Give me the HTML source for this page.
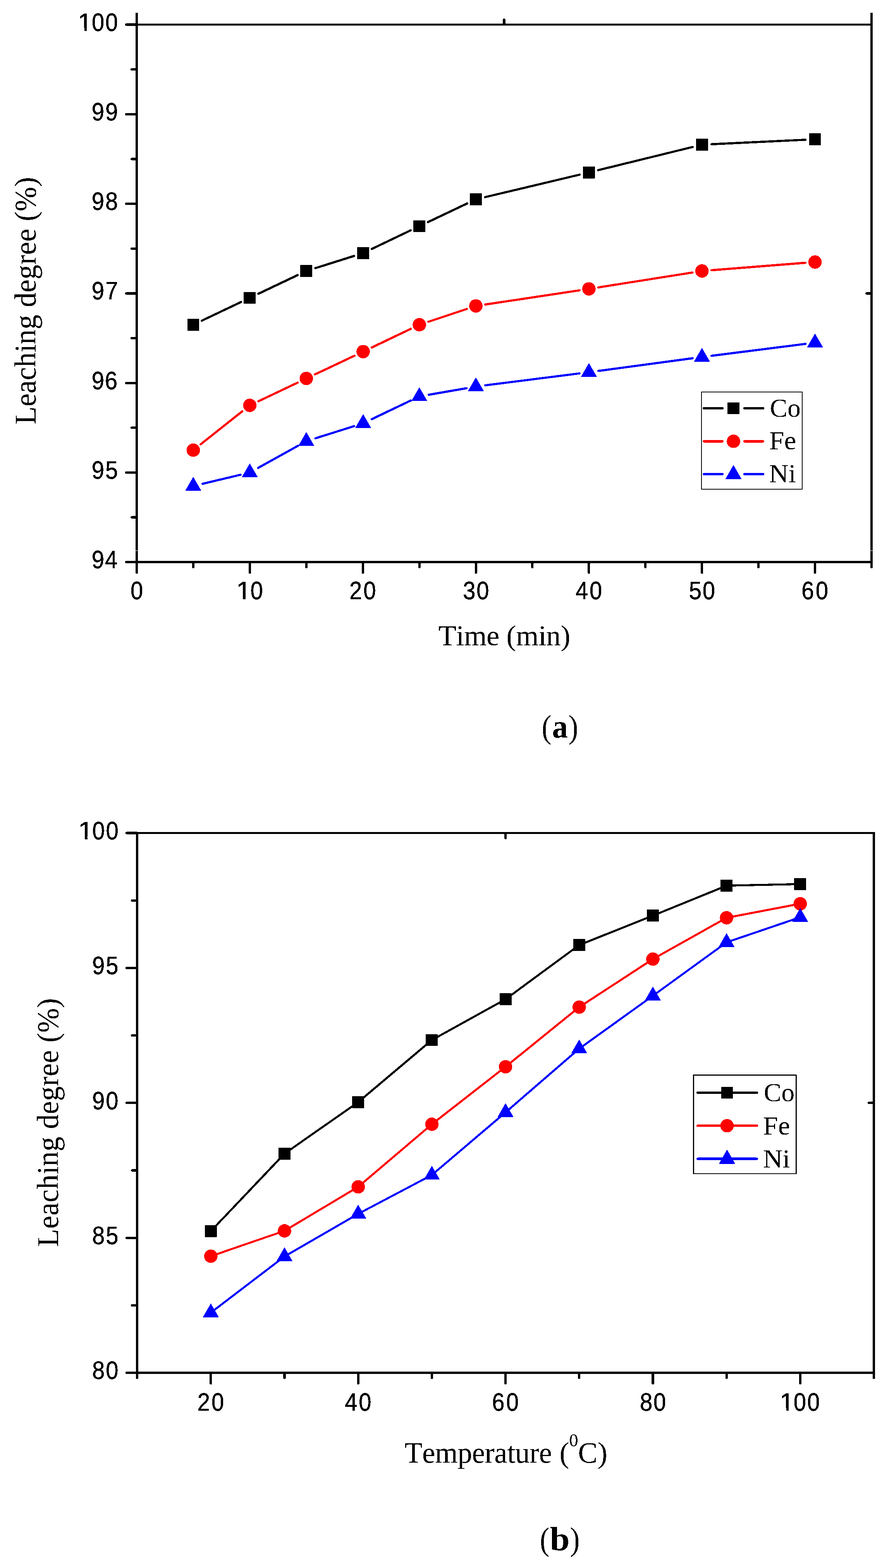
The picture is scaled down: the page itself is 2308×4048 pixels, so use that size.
<!DOCTYPE html>
<html lang="en"><head><meta charset="utf-8"><title>Leaching degree of Co, Fe and Ni versus time and temperature</title>
<style>html,body{margin:0;padding:0;background:#fff}body{width:2308px;height:4048px;overflow:hidden}svg{display:block}text{white-space:pre;font-kerning:none}</style>
</head><body>
<svg width="2308" height="4048" viewBox="0 0 2308 4048">
<rect width="2308" height="4048" fill="#fff"/>
<defs><filter id="bin" filterUnits="userSpaceOnUse" x="0" y="0" width="2308" height="4048" color-interpolation-filters="sRGB"><feComponentTransfer><feFuncA type="discrete" tableValues="0 1"/></feComponentTransfer></filter></defs>
<defs><clipPath id="one"><path d="M-20,-80H400V20H38.71V-6.97H25.51V10H18.44V-6.97H-20Z"/></clipPath></defs>
<g filter="url(#bin)">
<line x1="353" y1="33.6" x2="353" y2="1451.2" stroke="#000" stroke-width="6" stroke-linecap="butt"/>
<line x1="2250" y1="33.6" x2="2250" y2="1451.2" stroke="#000" stroke-width="6" stroke-linecap="butt"/>
<line x1="350" y1="63.6" x2="2253" y2="63.6" stroke="#000" stroke-width="5" stroke-linecap="butt"/>
<line x1="350" y1="1451.2" x2="2253" y2="1451.2" stroke="#000" stroke-width="6" stroke-linecap="butt"/>
<line x1="353" y1="1451.2" x2="353" y2="1478.5" stroke="#000" stroke-width="6" stroke-linecap="round"/>
<line x1="498.92" y1="1451.2" x2="498.92" y2="1464.3" stroke="#000" stroke-width="6" stroke-linecap="round"/>
<line x1="644.85" y1="1451.2" x2="644.85" y2="1478.5" stroke="#000" stroke-width="6" stroke-linecap="round"/>
<line x1="790.77" y1="1451.2" x2="790.77" y2="1464.3" stroke="#000" stroke-width="6" stroke-linecap="round"/>
<line x1="936.69" y1="1451.2" x2="936.69" y2="1478.5" stroke="#000" stroke-width="6" stroke-linecap="round"/>
<line x1="1082.62" y1="1451.2" x2="1082.62" y2="1464.3" stroke="#000" stroke-width="6" stroke-linecap="round"/>
<line x1="1228.54" y1="1451.2" x2="1228.54" y2="1478.5" stroke="#000" stroke-width="6" stroke-linecap="round"/>
<line x1="1374.46" y1="1451.2" x2="1374.46" y2="1464.3" stroke="#000" stroke-width="6" stroke-linecap="round"/>
<line x1="1520.38" y1="1451.2" x2="1520.38" y2="1478.5" stroke="#000" stroke-width="6" stroke-linecap="round"/>
<line x1="1666.31" y1="1451.2" x2="1666.31" y2="1464.3" stroke="#000" stroke-width="6" stroke-linecap="round"/>
<line x1="1812.23" y1="1451.2" x2="1812.23" y2="1478.5" stroke="#000" stroke-width="6" stroke-linecap="round"/>
<line x1="1958.15" y1="1451.2" x2="1958.15" y2="1464.3" stroke="#000" stroke-width="6" stroke-linecap="round"/>
<line x1="2104.08" y1="1451.2" x2="2104.08" y2="1478.5" stroke="#000" stroke-width="6" stroke-linecap="round"/>
<line x1="2250" y1="1451.2" x2="2250" y2="1464.3" stroke="#000" stroke-width="6" stroke-linecap="round"/>
<line x1="353" y1="1451.2" x2="325.7" y2="1451.2" stroke="#000" stroke-width="6" stroke-linecap="round"/>
<line x1="353" y1="1335.57" x2="339.9" y2="1335.57" stroke="#000" stroke-width="6" stroke-linecap="round"/>
<line x1="353" y1="1219.93" x2="325.7" y2="1219.93" stroke="#000" stroke-width="6" stroke-linecap="round"/>
<line x1="353" y1="1104.3" x2="339.9" y2="1104.3" stroke="#000" stroke-width="6" stroke-linecap="round"/>
<line x1="353" y1="988.67" x2="325.7" y2="988.67" stroke="#000" stroke-width="6" stroke-linecap="round"/>
<line x1="353" y1="873.03" x2="339.9" y2="873.03" stroke="#000" stroke-width="6" stroke-linecap="round"/>
<line x1="353" y1="757.4" x2="325.7" y2="757.4" stroke="#000" stroke-width="6" stroke-linecap="round"/>
<line x1="353" y1="641.77" x2="339.9" y2="641.77" stroke="#000" stroke-width="6" stroke-linecap="round"/>
<line x1="353" y1="526.13" x2="325.7" y2="526.13" stroke="#000" stroke-width="6" stroke-linecap="round"/>
<line x1="353" y1="410.5" x2="339.9" y2="410.5" stroke="#000" stroke-width="6" stroke-linecap="round"/>
<line x1="353" y1="294.87" x2="325.7" y2="294.87" stroke="#000" stroke-width="6" stroke-linecap="round"/>
<line x1="353" y1="179.23" x2="339.9" y2="179.23" stroke="#000" stroke-width="6" stroke-linecap="round"/>
<line x1="353" y1="63.6" x2="325.7" y2="63.6" stroke="#000" stroke-width="6" stroke-linecap="round"/>
<line x1="1301.5" y1="63.6" x2="1301.5" y2="50.5" stroke="#000" stroke-width="6" stroke-linecap="round"/>
<line x1="2250" y1="757.4" x2="2236.9" y2="757.4" stroke="#000" stroke-width="6" stroke-linecap="round"/>
<g font-family='"Liberation Sans", sans-serif' font-size="62.5" fill="#000" stroke="#000" stroke-width="0.6" stroke-linejoin="round">
<text transform="translate(335.5,1547.2) scale(0.93,1.03)" x="1.54">0</text>
<text transform="translate(610.08,1547.2) scale(0.93,1.03)" clip-path="url(#one)"><tspan x="0" textLength="41.34" lengthAdjust="spacingAndGlyphs">1</tspan><tspan x="39.12">0</tspan></text>
<text transform="translate(901.69,1547.2) scale(0.93,1.03)" x="0.46 39.38">20</text>
<text transform="translate(1193.54,1547.2) scale(0.93,1.03)" x="1.72 39.38">30</text>
<text transform="translate(1485.38,1547.2) scale(0.93,1.03)" x="0.66 39.38">40</text>
<text transform="translate(1777.23,1547.2) scale(0.93,1.03)" x="1.6 39.38">50</text>
<text transform="translate(2069.08,1547.2) scale(0.93,1.03)" x="0.24 39.38">60</text>
<text transform="translate(235.3,1467.1) scale(0.93,1.03)" x="1.55 38.49">94</text>
<text transform="translate(235.3,1235.83) scale(0.93,1.03)" x="1.55 39.44">95</text>
<text transform="translate(235.3,1004.57) scale(0.93,1.03)" x="1.55 38.08">96</text>
<text transform="translate(235.3,773.3) scale(0.93,1.03)" x="1.55 39.35">97</text>
<text transform="translate(235.3,542.03) scale(0.93,1.03)" x="1.55 39.38">98</text>
<text transform="translate(235.3,310.77) scale(0.93,1.03)" x="1.55 39.39">99</text>
<text transform="translate(200.54,79.5) scale(0.93,1.03)" clip-path="url(#one)"><tspan x="0" textLength="41.34" lengthAdjust="spacingAndGlyphs">1</tspan><tspan x="39.12 76.96">00</tspan></text>
</g>
<line x1="521.14" y1="827.78" x2="622.63" y2="779.53" stroke="#000" stroke-width="5.6" stroke-linecap="round"/>
<line x1="667.06" y1="758.4" x2="768.55" y2="710.15" stroke="#000" stroke-width="5.6" stroke-linecap="round"/>
<line x1="814.23" y1="692.19" x2="914.1" y2="660.72" stroke="#000" stroke-width="5.6" stroke-linecap="round"/>
<line x1="959.76" y1="642.72" x2="1060.42" y2="594.56" stroke="#000" stroke-width="5.6" stroke-linecap="round"/>
<line x1="1104.83" y1="573.39" x2="1206.32" y2="525.13" stroke="#000" stroke-width="5.6" stroke-linecap="round"/>
<line x1="1252.47" y1="508.88" x2="1496.45" y2="450.88" stroke="#000" stroke-width="5.6" stroke-linecap="round"/>
<line x1="1544.27" y1="439.32" x2="1788.34" y2="379.37" stroke="#000" stroke-width="5.6" stroke-linecap="round"/>
<line x1="1836.8" y1="372.33" x2="2079.5" y2="360.79" stroke="#000" stroke-width="5.6" stroke-linecap="round"/>
<rect x="483.52" y="822.94" width="30.8" height="30.8" fill="#000"/>
<rect x="629.45" y="753.56" width="30.8" height="30.8" fill="#000"/>
<rect x="775.37" y="684.18" width="30.8" height="30.8" fill="#000"/>
<rect x="922.17" y="637.93" width="30.8" height="30.8" fill="#000"/>
<rect x="1067.22" y="568.55" width="30.8" height="30.8" fill="#000"/>
<rect x="1213.14" y="499.17" width="30.8" height="30.8" fill="#000"/>
<rect x="1504.98" y="429.79" width="30.8" height="30.8" fill="#000"/>
<rect x="1796.83" y="358.1" width="30.8" height="30.8" fill="#000"/>
<rect x="2088.68" y="344.22" width="30.8" height="30.8" fill="#000"/>
<line x1="518.2" y1="1146.84" x2="625.57" y2="1061.76" stroke="#f00" stroke-width="5.6" stroke-linecap="round"/>
<line x1="667.06" y1="1035.92" x2="768.55" y2="987.67" stroke="#f00" stroke-width="5.6" stroke-linecap="round"/>
<line x1="813.01" y1="966.59" x2="915.33" y2="918.23" stroke="#f00" stroke-width="5.6" stroke-linecap="round"/>
<line x1="959.76" y1="897.11" x2="1060.42" y2="848.96" stroke="#f00" stroke-width="5.6" stroke-linecap="round"/>
<line x1="1105.96" y1="830.57" x2="1205.2" y2="797.55" stroke="#f00" stroke-width="5.6" stroke-linecap="round"/>
<line x1="1252.86" y1="786.11" x2="1496.06" y2="749.5" stroke="#f00" stroke-width="5.6" stroke-linecap="round"/>
<line x1="1544.68" y1="741.99" x2="1787.93" y2="703.43" stroke="#f00" stroke-width="5.6" stroke-linecap="round"/>
<line x1="1836.75" y1="697.64" x2="2079.55" y2="678.4" stroke="#f00" stroke-width="5.6" stroke-linecap="round"/>
<circle cx="498.92" cy="1162.12" r="17.3" fill="#f00"/>
<circle cx="644.85" cy="1046.48" r="17.3" fill="#f00"/>
<circle cx="790.77" cy="977.1" r="17.3" fill="#f00"/>
<circle cx="937.57" cy="907.72" r="17.3" fill="#f00"/>
<circle cx="1082.62" cy="838.34" r="17.3" fill="#f00"/>
<circle cx="1228.54" cy="789.78" r="17.3" fill="#f00"/>
<circle cx="1520.38" cy="745.84" r="17.3" fill="#f00"/>
<circle cx="1812.23" cy="699.58" r="17.3" fill="#f00"/>
<circle cx="2104.08" cy="676.46" r="17.3" fill="#f00"/>
<line x1="522.86" y1="1248.93" x2="620.91" y2="1225.62" stroke="#00f" stroke-width="5.6" stroke-linecap="round"/>
<line x1="666.36" y1="1208" x2="769.26" y2="1150.92" stroke="#00f" stroke-width="5.6" stroke-linecap="round"/>
<line x1="814.23" y1="1131.6" x2="914.1" y2="1100.13" stroke="#00f" stroke-width="5.6" stroke-linecap="round"/>
<line x1="959.76" y1="1082.12" x2="1060.42" y2="1033.97" stroke="#00f" stroke-width="5.6" stroke-linecap="round"/>
<line x1="1106.85" y1="1019.13" x2="1204.3" y2="1002.14" stroke="#00f" stroke-width="5.6" stroke-linecap="round"/>
<line x1="1252.94" y1="994.82" x2="1495.98" y2="964.01" stroke="#00f" stroke-width="5.6" stroke-linecap="round"/>
<line x1="1544.76" y1="957.63" x2="1787.85" y2="924.88" stroke="#00f" stroke-width="5.6" stroke-linecap="round"/>
<line x1="1836.64" y1="918.51" x2="2079.67" y2="887.69" stroke="#00f" stroke-width="5.6" stroke-linecap="round"/>
<polygon points="498.92,1230.92 519.52,1266.52 478.32,1266.52" fill="#00f"/>
<polygon points="644.85,1196.23 665.45,1231.83 624.25,1231.83" fill="#00f"/>
<polygon points="790.77,1115.29 811.37,1150.89 770.17,1150.89" fill="#00f"/>
<polygon points="937.57,1069.04 958.17,1104.64 916.97,1104.64" fill="#00f"/>
<polygon points="1082.62,999.66 1103.22,1035.26 1062.02,1035.26" fill="#00f"/>
<polygon points="1228.54,974.22 1249.14,1009.82 1207.94,1009.82" fill="#00f"/>
<polygon points="1520.38,937.21 1540.98,972.81 1499.78,972.81" fill="#00f"/>
<polygon points="1812.23,897.9 1832.83,933.5 1791.63,933.5" fill="#00f"/>
<polygon points="2104.08,860.9 2124.68,896.5 2083.48,896.5" fill="#00f"/>
<rect x="1810.95" y="1012.35" width="260.1" height="250.55" fill="none" stroke="#000" stroke-width="2"/>
<line x1="1817.5" y1="1054" x2="1865.2" y2="1054" stroke="#000" stroke-width="6.3" stroke-linecap="round"/>
<line x1="1922" y1="1054" x2="1969.8" y2="1054" stroke="#000" stroke-width="6.3" stroke-linecap="round"/>
<rect x="1878.3" y="1038.7" width="30.6" height="30.6" fill="#000"/>
<text x="1987.6" y="1076.2" font-family='"Liberation Serif", serif' font-size="68" fill="#000">Co</text>
<line x1="1817.5" y1="1139.3" x2="1865.2" y2="1139.3" stroke="#f00" stroke-width="6.3" stroke-linecap="round"/>
<line x1="1922" y1="1139.3" x2="1969.8" y2="1139.3" stroke="#f00" stroke-width="6.3" stroke-linecap="round"/>
<circle cx="1893.6" cy="1139.3" r="17.3" fill="#f00"/>
<text x="1985.8" y="1160.4" font-family='"Liberation Serif", serif' font-size="68" textLength="69.5" lengthAdjust="spacingAndGlyphs" fill="#000">Fe</text>
<line x1="1817.5" y1="1224.2" x2="1865.2" y2="1224.2" stroke="#00f" stroke-width="6.3" stroke-linecap="round"/>
<line x1="1922" y1="1224.2" x2="1969.8" y2="1224.2" stroke="#00f" stroke-width="6.3" stroke-linecap="round"/>
<polygon points="1893.6,1200.3 1914.6,1237.1 1872.6,1237.1" fill="#00f"/>
<text x="1985.5" y="1245.3" font-family='"Liberation Serif", serif' font-size="68" textLength="69.5" lengthAdjust="spacingAndGlyphs" fill="#000">Ni</text>
<text transform="translate(92,1095.85) rotate(-90) scale(1,1.02)" font-family='"Liberation Serif", serif' font-size="76" textLength="639" lengthAdjust="spacing" fill="#000">Leaching degree (%)</text>
<text x="1132" y="1665.9" font-family='"Liberation Serif", serif' font-size="75" textLength="340.5" lengthAdjust="spacing" fill="#000">Time (min)</text>
<text font-family='"Liberation Serif", serif' font-size="84" fill="#000"><tspan x="1398.6" y="1904.5" font-size="85.47" textLength="24.90" lengthAdjust="spacingAndGlyphs">(</tspan><tspan x="1425.6" y="1903.7" font-size="84.00" font-weight="bold" textLength="40.32" lengthAdjust="spacingAndGlyphs">a</tspan><tspan x="1467.7" y="1904.5" font-size="85.47" textLength="24.90" lengthAdjust="spacingAndGlyphs">)</tspan></text>
</g>
<g filter="url(#bin)">
<line x1="354.1" y1="2150.6" x2="354.1" y2="3544.1" stroke="#000" stroke-width="6" stroke-linecap="butt"/>
<line x1="2256.1" y1="2150.6" x2="2256.1" y2="3544.1" stroke="#000" stroke-width="6" stroke-linecap="butt"/>
<line x1="351.1" y1="2150.6" x2="2259.1" y2="2150.6" stroke="#000" stroke-width="5" stroke-linecap="butt"/>
<line x1="351.1" y1="3544.1" x2="2259.1" y2="3544.1" stroke="#000" stroke-width="6" stroke-linecap="butt"/>
<line x1="354.1" y1="3544.1" x2="354.1" y2="3557.2" stroke="#000" stroke-width="6" stroke-linecap="round"/>
<line x1="544.3" y1="3544.1" x2="544.3" y2="3571.4" stroke="#000" stroke-width="6" stroke-linecap="round"/>
<line x1="734.5" y1="3544.1" x2="734.5" y2="3557.2" stroke="#000" stroke-width="6" stroke-linecap="round"/>
<line x1="924.7" y1="3544.1" x2="924.7" y2="3571.4" stroke="#000" stroke-width="6" stroke-linecap="round"/>
<line x1="1114.9" y1="3544.1" x2="1114.9" y2="3557.2" stroke="#000" stroke-width="6" stroke-linecap="round"/>
<line x1="1305.1" y1="3544.1" x2="1305.1" y2="3571.4" stroke="#000" stroke-width="6" stroke-linecap="round"/>
<line x1="1495.3" y1="3544.1" x2="1495.3" y2="3557.2" stroke="#000" stroke-width="6" stroke-linecap="round"/>
<line x1="1685.5" y1="3544.1" x2="1685.5" y2="3571.4" stroke="#000" stroke-width="6" stroke-linecap="round"/>
<line x1="1875.7" y1="3544.1" x2="1875.7" y2="3557.2" stroke="#000" stroke-width="6" stroke-linecap="round"/>
<line x1="2065.9" y1="3544.1" x2="2065.9" y2="3571.4" stroke="#000" stroke-width="6" stroke-linecap="round"/>
<line x1="2256.1" y1="3544.1" x2="2256.1" y2="3557.2" stroke="#000" stroke-width="6" stroke-linecap="round"/>
<line x1="354.1" y1="3544.1" x2="326.8" y2="3544.1" stroke="#000" stroke-width="6" stroke-linecap="round"/>
<line x1="354.1" y1="3369.91" x2="341" y2="3369.91" stroke="#000" stroke-width="6" stroke-linecap="round"/>
<line x1="354.1" y1="3195.72" x2="326.8" y2="3195.72" stroke="#000" stroke-width="6" stroke-linecap="round"/>
<line x1="354.1" y1="3021.54" x2="341" y2="3021.54" stroke="#000" stroke-width="6" stroke-linecap="round"/>
<line x1="354.1" y1="2847.35" x2="326.8" y2="2847.35" stroke="#000" stroke-width="6" stroke-linecap="round"/>
<line x1="354.1" y1="2673.16" x2="341" y2="2673.16" stroke="#000" stroke-width="6" stroke-linecap="round"/>
<line x1="354.1" y1="2498.97" x2="326.8" y2="2498.97" stroke="#000" stroke-width="6" stroke-linecap="round"/>
<line x1="354.1" y1="2324.79" x2="341" y2="2324.79" stroke="#000" stroke-width="6" stroke-linecap="round"/>
<line x1="354.1" y1="2150.6" x2="326.8" y2="2150.6" stroke="#000" stroke-width="6" stroke-linecap="round"/>
<line x1="1305.1" y1="2150.6" x2="1305.1" y2="2163.7" stroke="#000" stroke-width="6" stroke-linecap="round"/>
<line x1="2256.1" y1="2847.35" x2="2243" y2="2847.35" stroke="#000" stroke-width="6" stroke-linecap="round"/>
<g font-family='"Liberation Sans", sans-serif' font-size="62.5" fill="#000" stroke="#000" stroke-width="0.6" stroke-linejoin="round">
<text transform="translate(509.3,3642.4) scale(0.93,1.03)" x="0.46 39.38">20</text>
<text transform="translate(889.7,3642.4) scale(0.93,1.03)" x="0.66 39.38">40</text>
<text transform="translate(1270.1,3642.4) scale(0.93,1.03)" x="0.24 39.38">60</text>
<text transform="translate(1650.5,3642.4) scale(0.93,1.03)" x="1.54 39.38">80</text>
<text transform="translate(2012.44,3642.4) scale(0.93,1.03)" clip-path="url(#one)"><tspan x="0" textLength="41.34" lengthAdjust="spacingAndGlyphs">1</tspan><tspan x="39.12 76.96">00</tspan></text>
<text transform="translate(236.6,3560.3) scale(0.93,1.03)" x="1.54 39.38">80</text>
<text transform="translate(236.6,3211.92) scale(0.93,1.03)" x="1.54 39.44">85</text>
<text transform="translate(236.6,2863.55) scale(0.93,1.03)" x="1.55 39.38">90</text>
<text transform="translate(236.6,2515.17) scale(0.93,1.03)" x="1.55 39.44">95</text>
<text transform="translate(201.84,2166.8) scale(0.93,1.03)" clip-path="url(#one)"><tspan x="0" textLength="41.34" lengthAdjust="spacingAndGlyphs">1</tspan><tspan x="39.12 76.96">00</tspan></text>
</g>
<polyline points="544.3,3178.31 734.5,2978.34 924.7,2845.26 1114.9,2685.01 1305.1,2579.8 1495.3,2439.75 1685.5,2363.81 1875.7,2286.47 2065.9,2282.29" fill="none" stroke="#000" stroke-width="5.2" stroke-linejoin="round" stroke-linecap="round"/>
<rect x="528.9" y="3162.91" width="30.8" height="30.8" fill="#000"/>
<rect x="719.1" y="2962.94" width="30.8" height="30.8" fill="#000"/>
<rect x="909.3" y="2829.86" width="30.8" height="30.8" fill="#000"/>
<rect x="1099.5" y="2669.61" width="30.8" height="30.8" fill="#000"/>
<rect x="1289.7" y="2564.4" width="30.8" height="30.8" fill="#000"/>
<rect x="1479.9" y="2424.35" width="30.8" height="30.8" fill="#000"/>
<rect x="1670.1" y="2348.41" width="30.8" height="30.8" fill="#000"/>
<rect x="1860.3" y="2271.07" width="30.8" height="30.8" fill="#000"/>
<rect x="2050.5" y="2266.89" width="30.8" height="30.8" fill="#000"/>
<polyline points="544.3,3243.1 734.5,3177.61 924.7,3064.04 1114.9,2902.39 1305.1,2753.99 1495.3,2600 1685.5,2475.98 1875.7,2369.38 2065.9,2333.15" fill="none" stroke="#f00" stroke-width="5.2" stroke-linejoin="round" stroke-linecap="round"/>
<circle cx="544.3" cy="3243.1" r="17.3" fill="#f00"/>
<circle cx="734.5" cy="3177.61" r="17.3" fill="#f00"/>
<circle cx="924.7" cy="3064.04" r="17.3" fill="#f00"/>
<circle cx="1114.9" cy="2902.39" r="17.3" fill="#f00"/>
<circle cx="1305.1" cy="2753.99" r="17.3" fill="#f00"/>
<circle cx="1495.3" cy="2600" r="17.3" fill="#f00"/>
<circle cx="1685.5" cy="2475.98" r="17.3" fill="#f00"/>
<circle cx="1875.7" cy="2369.38" r="17.3" fill="#f00"/>
<circle cx="2065.9" cy="2333.15" r="17.3" fill="#f00"/>
<polyline points="544.3,3388.72 734.5,3243.8 924.7,3133.71 1114.9,3033.38 1305.1,2871.74 1495.3,2707.3 1685.5,2570.74 1875.7,2432.78 2065.9,2367.99" fill="none" stroke="#00f" stroke-width="5.2" stroke-linejoin="round" stroke-linecap="round"/>
<polygon points="544.3,3365.02 564.9,3400.62 523.7,3400.62" fill="#00f"/>
<polygon points="734.5,3220.1 755.1,3255.7 713.9,3255.7" fill="#00f"/>
<polygon points="924.7,3110.01 945.3,3145.61 904.1,3145.61" fill="#00f"/>
<polygon points="1114.9,3009.68 1135.5,3045.28 1094.3,3045.28" fill="#00f"/>
<polygon points="1305.1,2848.04 1325.7,2883.64 1284.5,2883.64" fill="#00f"/>
<polygon points="1495.3,2683.6 1515.9,2719.2 1474.7,2719.2" fill="#00f"/>
<polygon points="1685.5,2547.04 1706.1,2582.64 1664.9,2582.64" fill="#00f"/>
<polygon points="1875.7,2409.08 1896.3,2444.68 1855.1,2444.68" fill="#00f"/>
<polygon points="2065.9,2344.29 2086.5,2379.89 2045.3,2379.89" fill="#00f"/>
<rect x="1790.35" y="2775.9" width="265.2" height="254.2" fill="none" stroke="#000" stroke-width="2.8"/>
<line x1="1801.4" y1="2820.9" x2="1953.7" y2="2820.9" stroke="#000" stroke-width="6.3" stroke-linecap="round"/>
<rect x="1861.7" y="2805.6" width="30.6" height="30.6" fill="#000"/>
<text x="1971.8" y="2842.5" font-family='"Liberation Serif", serif' font-size="68" fill="#000">Co</text>
<line x1="1801.4" y1="2906.2" x2="1953.7" y2="2906.2" stroke="#f00" stroke-width="6.3" stroke-linecap="round"/>
<circle cx="1877" cy="2906.2" r="17.3" fill="#f00"/>
<text x="1970" y="2928.7" font-family='"Liberation Serif", serif' font-size="68" textLength="69.5" lengthAdjust="spacingAndGlyphs" fill="#000">Fe</text>
<line x1="1801.4" y1="2991.6" x2="1953.7" y2="2991.6" stroke="#00f" stroke-width="6.3" stroke-linecap="round"/>
<polygon points="1877,2967.7 1898,3004.5 1856,3004.5" fill="#00f"/>
<text x="1970" y="3013.5" font-family='"Liberation Serif", serif' font-size="68" textLength="69.5" lengthAdjust="spacingAndGlyphs" fill="#000">Ni</text>
<text transform="translate(150,3218.9) rotate(-90) scale(1,1.02)" font-family='"Liberation Serif", serif' font-size="76" textLength="642" lengthAdjust="spacing" fill="#000">Leaching degree (%)</text>
<text y="3775.7" font-family='"Liberation Serif", serif' font-size="75.5" fill="#000"><tspan x="1044.5" textLength="380.6" lengthAdjust="spacing">Temperature</tspan> <tspan x="1444.6">(</tspan><tspan x="1469.6" y="3733.5" font-size="46">0</tspan><tspan x="1492.2" y="3775.7" textLength="76" lengthAdjust="spacing">C)</tspan></text>
<text font-family='"Liberation Serif", serif' font-size="84" fill="#000"><tspan x="1393.8" y="4001.85" font-size="85.47" textLength="24.90" lengthAdjust="spacingAndGlyphs">(</tspan><tspan x="1420" y="4001.75" font-size="87.78" font-weight="bold" textLength="50.64" lengthAdjust="spacingAndGlyphs">b</tspan><tspan x="1471.8" y="4001.85" font-size="85.47" textLength="24.90" lengthAdjust="spacingAndGlyphs">)</tspan></text>
</g>
<rect x="348" y="1421" width="10" height="1" fill="#fff"/><rect x="2245" y="1421" width="10" height="1" fill="#fff"/>
</svg></body></html>
